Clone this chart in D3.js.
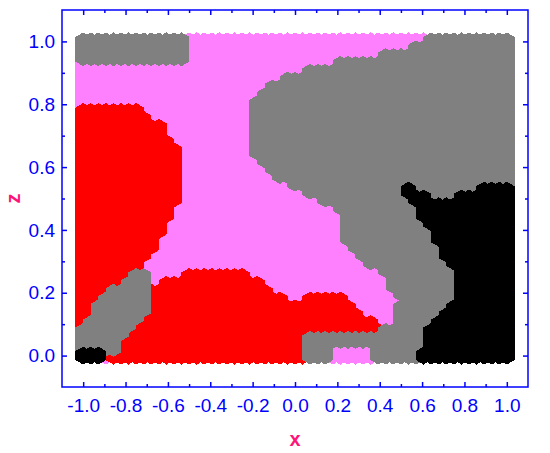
<!DOCTYPE html>
<html>
<head>
<meta charset="utf-8">
<script src="https://cdn.jsdelivr.net/npm/d3@7"></script>
<style>
  html, body { margin: 0; padding: 0; background: #fff; }
  svg { display: block; }
</style>
</head>
<body>
<script>
// Sampling grid of the phase map (cell centres)
const xStart = -1, xEnd = 1, xCount = 57;
const zStart = 0, zEnd = 1, zCount = 41;

// Phases in drawing order (later ones sit on top)
const phases = ["pink", "red", "gray", "black"];
const phaseColors = ["#ff80ff", "#ff0000", "#808080", "#000000"];

// Region outlines, [x, z] of the cell centres
const redLeft = [[-1.05,0.09],[-1.05,0.785],[-0.75,0.785],[-0.71,0.76],[-0.65,0.735],[-0.625,0.71],
  [-0.6,0.685],[-0.57,0.66],[-0.56,0.635],[-0.56,0.49],[-0.585,0.462],[-0.61,0.437],[-0.63,0.41],
  [-0.655,0.385],[-0.67,0.36],[-0.69,0.335],[-0.715,0.31],[-0.735,0.28],[-0.8,0.2],[-0.88,0.1]];
const redBottom = [[-0.875,-0.05],[-0.875,0.01],[-0.76,0.10],[-0.70,0.215],[-0.57,0.235],[-0.47,0.26],
  [-0.26,0.26],[-0.19,0.235],[-0.12,0.205],[-0.05,0.165],[0.0,0.16],[0.07,0.185],[0.23,0.185],
  [0.27,0.135],[0.33,0.115],[0.38,0.09],[0.41,0.06],[0.41,0.04],[0.04,0.04],[0.04,-0.05]];
const grayTopLeft = [[-1.05,0.94],[-0.53,0.94],[-0.53,1.05],[-1.05,1.05]];
const grayBand = [[-0.735,0.27],[-0.685,0.27],[-0.685,0.15],[-0.74,0.12],[-0.79,0.085],[-0.83,0.05],
  [-0.87,0.01],[-1.05,0.01],[-1.05,0.09],[-0.99,0.10],[-0.9,0.18]];
const grayMain = [[0.635,1.05],[1.05,1.05],[1.05,-0.05],[0.385,-0.05],[0.385,0.0375],[0.165,0.0375],
  [0.165,-0.05],[0.04,-0.05],[0.04,0.0625],[0.38,0.0625],[0.45,0.09],[0.495,0.115],[0.505,0.19],
  [0.48,0.21],[0.45,0.237],[0.42,0.26],[0.37,0.29],[0.33,0.31],[0.28,0.337],[0.24,0.36],[0.24,0.46],
  [0.175,0.4875],[0.1,0.512],[0.02,0.537],[-0.05,0.562],[-0.11,0.587],[-0.16,0.612],[-0.195,0.637],
  [-0.195,0.81],[-0.16,0.837],[-0.11,0.862],[-0.03,0.887],[0.1,0.912],[0.3,0.937],[0.52,0.962],
  [0.6,0.987],[0.635,1.0]];
const blackRight = [[0.50,0.545],[0.68,0.48],[0.88,0.525],[1.05,0.545],[1.05,-0.05],[0.6,-0.05],
  [0.6,0.01],[0.63,0.07],[0.69,0.115],[0.73,0.15],[0.775,0.18],[0.785,0.24],[0.74,0.295],
  [0.70,0.34],[0.665,0.385],[0.62,0.43],[0.585,0.47],[0.535,0.525]];
const blackCorner = [[-1.05,-0.05],[-0.91,-0.05],[-0.91,0.01],[-1.05,0.01]];

// Checked from the top phase down; anything left over is pink
const regions = [
  { phase: "black", polys: [blackRight, blackCorner] },
  { phase: "gray", polys: [grayMain, grayTopLeft, grayBand] },
  { phase: "red", polys: [redLeft, redBottom] }
];

// Tick labels
const xTicks = [-1.0, -0.8, -0.6, -0.4, -0.2, 0.0, 0.2, 0.4, 0.6, 0.8, 1.0];
const xMinor = [-0.9, -0.7, -0.5, -0.3, -0.1, 0.1, 0.3, 0.5, 0.7, 0.9];
const zTicks = [0.0, 0.2, 0.4, 0.6, 0.8, 1.0];
const zMinor = [0.1, 0.3, 0.5, 0.7, 0.9];

const config = {
    width: 550,
    height: 453,
    left: 62, right: 528, top: 10, bottom: 387,
    hexRadius: 9,
    axisColor: "#0000ff",
    titleColor: "#ff1477",
    font: "'Liberation Sans', Arial, sans-serif"
};

const x = d3.scaleLinear().domain([-1.1, 1.1]).range([config.left, config.right]);
const z = d3.scaleLinear().domain([-0.1, 1.1]).range([config.bottom, config.top]);

const svg = d3.select("body").append("svg")
    .attr("width", config.width)
    .attr("height", config.height);

// Build the cells
function classify(px, pz) {
    for (const r of regions) {
        if (r.polys.some(p => d3.polygonContains(p, [px, pz]))) return r.phase;
    }
    return "pink";
}

const cells = [];
for (let i = 0; i < xCount; i++) {
    for (let j = 0; j < zCount; j++) {
        const cx = xStart + i * (xEnd - xStart) / (xCount - 1);
        const cz = zStart + j * (zEnd - zStart) / (zCount - 1);
        cells.push({ x: cx, z: cz, phase: classify(cx, cz) });
    }
}

// Pointy-top hexagon marker
const hexPath = d3.line().curve(d3.curveLinearClosed)(
    d3.range(6).map(k => {
        const a = Math.PI / 3 * k - Math.PI / 2;
        return [config.hexRadius * Math.cos(a), config.hexRadius * Math.sin(a)];
    })
);

phases.forEach((ph, k) => {
    svg.append("g")
        .attr("class", "phase-" + ph)
        .selectAll("path")
        .data(cells.filter(d => d.phase === ph))
        .join("path")
        .attr("d", hexPath)
        .attr("transform", d => `translate(${x(d.x)},${z(d.z)})`)
        .attr("fill", phaseColors[k])
        .attr("shape-rendering", "crispEdges");
});

// Axes (ticks point inward, mirrored on top and right)
const fmt = d => d.toFixed(1);

function styleAxis(g) {
    g.select(".domain").remove();
    g.selectAll("line").attr("stroke", config.axisColor).attr("stroke-width", 1.5);
    g.selectAll("text")
        .attr("fill", config.axisColor)
        .style("font-family", config.font)
        .style("font-size", "19px");
}

svg.append("g").attr("transform", `translate(0,${config.bottom})`)
    .call(d3.axisBottom(x).tickValues(xTicks).tickFormat(fmt).tickSizeInner(-5).tickSizeOuter(0).tickPadding(12))
    .call(styleAxis);
svg.append("g").attr("transform", `translate(0,${config.bottom})`)
    .call(d3.axisBottom(x).tickValues(xMinor).tickFormat("").tickSizeInner(-3).tickSizeOuter(0))
    .call(styleAxis);
svg.append("g").attr("transform", `translate(0,${config.top})`)
    .call(d3.axisTop(x).tickValues(xTicks).tickFormat("").tickSizeInner(-5).tickSizeOuter(0))
    .call(styleAxis);
svg.append("g").attr("transform", `translate(0,${config.top})`)
    .call(d3.axisTop(x).tickValues(xMinor).tickFormat("").tickSizeInner(-3).tickSizeOuter(0))
    .call(styleAxis);

svg.append("g").attr("transform", `translate(${config.left},0)`)
    .call(d3.axisLeft(z).tickValues(zTicks).tickFormat(fmt).tickSizeInner(-5).tickSizeOuter(0).tickPadding(7))
    .call(styleAxis);
svg.append("g").attr("transform", `translate(${config.left},0)`)
    .call(d3.axisLeft(z).tickValues(zMinor).tickFormat("").tickSizeInner(-3).tickSizeOuter(0))
    .call(styleAxis);
svg.append("g").attr("transform", `translate(${config.right},0)`)
    .call(d3.axisRight(z).tickValues(zTicks).tickFormat("").tickSizeInner(-5).tickSizeOuter(0))
    .call(styleAxis);
svg.append("g").attr("transform", `translate(${config.right},0)`)
    .call(d3.axisRight(z).tickValues(zMinor).tickFormat("").tickSizeInner(-3).tickSizeOuter(0))
    .call(styleAxis);

// Frame
svg.append("rect")
    .attr("x", config.left)
    .attr("y", config.top)
    .attr("width", config.right - config.left)
    .attr("height", config.bottom - config.top)
    .attr("fill", "none")
    .attr("stroke", config.axisColor)
    .attr("stroke-width", 1.5);

// Axis titles
svg.append("text")
    .attr("x", (config.left + config.right) / 2)
    .attr("y", 446)
    .attr("text-anchor", "middle")
    .attr("fill", config.titleColor)
    .style("font-family", config.font)
    .style("font-size", "20px")
    .style("font-weight", "bold")
    .text("x");

svg.append("text")
    .attr("transform", `translate(20,${(config.top + config.bottom) / 2}) rotate(-90)`)
    .attr("text-anchor", "middle")
    .attr("fill", config.titleColor)
    .style("font-family", config.font)
    .style("font-size", "20px")
    .style("font-weight", "bold")
    .text("z");
</script>
</body>
</html>
